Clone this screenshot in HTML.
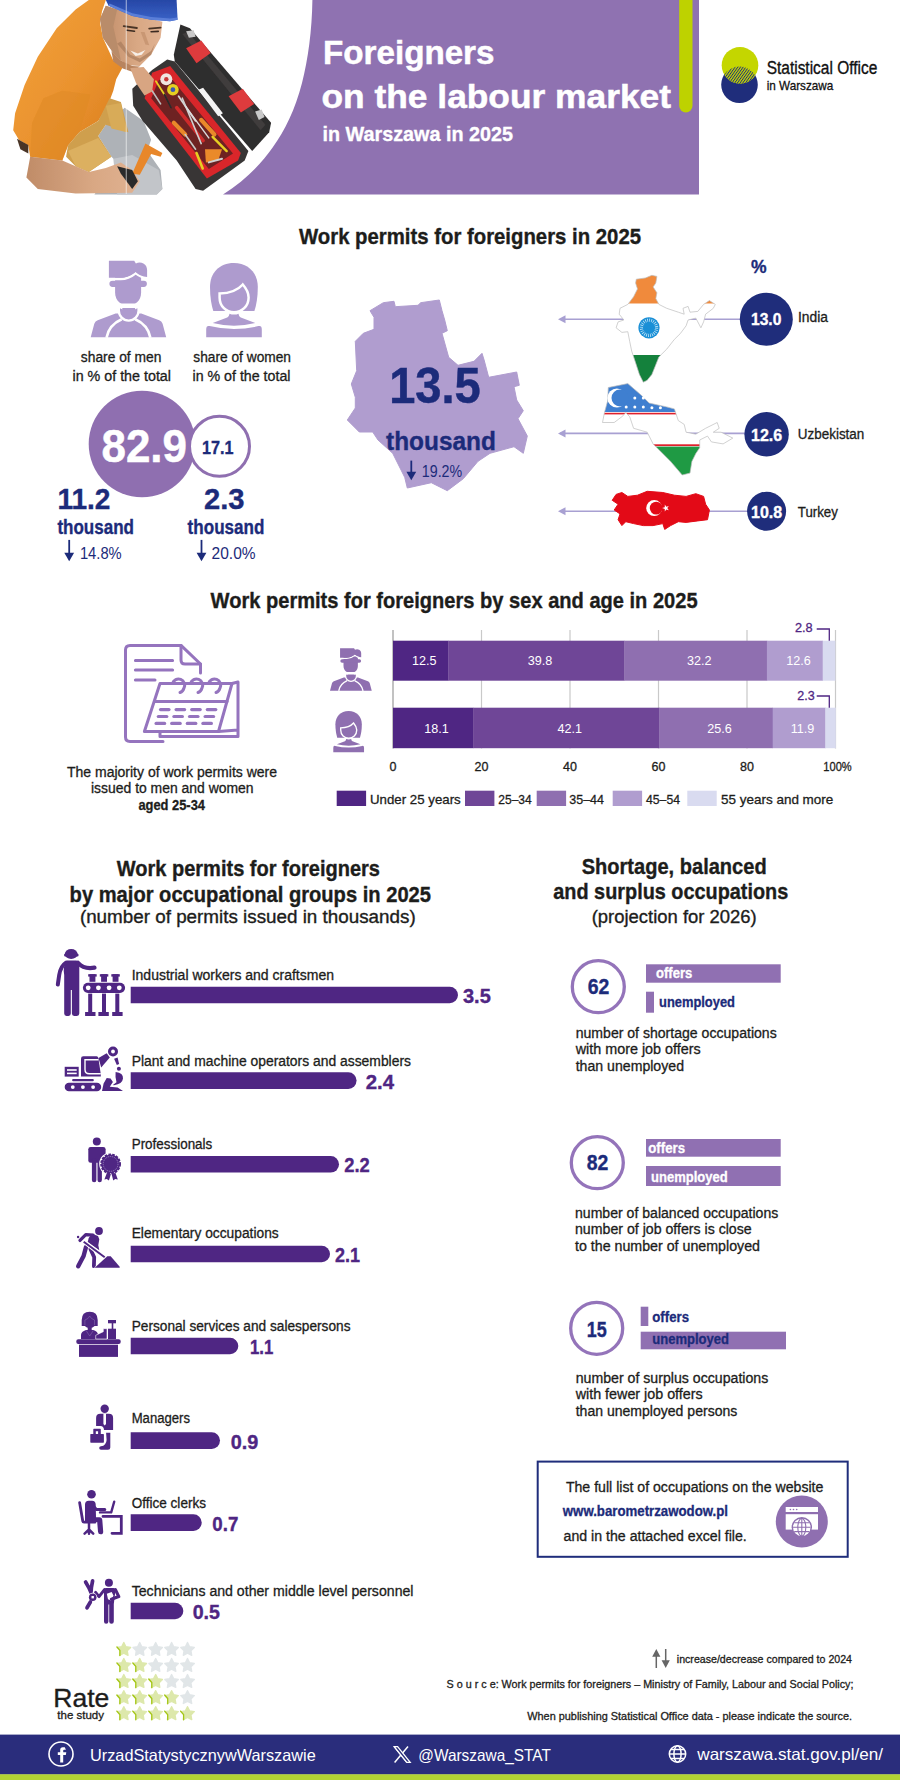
<!DOCTYPE html>
<html lang="en">
<head>
<meta charset="utf-8">
<title>Foreigners on the labour market in Warszawa in 2025</title>
<style>
html,body{margin:0;padding:0;background:#fff;}
body{width:900px;height:1780px;overflow:hidden;font-family:'Liberation Sans', 'DejaVu Sans', sans-serif;}
svg{display:block;}
svg text{font-family:'Liberation Sans', 'DejaVu Sans', sans-serif;white-space:pre;}
</style>
</head>
<body>
<svg width="900" height="1780" viewBox="0 0 900 1780">
<defs>
<filter id="blur1" x="-5%" y="-5%" width="110%" height="110%"><feGaussianBlur stdDeviation="0.7"/></filter>
<filter id="blur2" x="-5%" y="-5%" width="110%" height="110%"><feGaussianBlur stdDeviation="1.6"/></filter>
<pattern id="hatch" width="2.2" height="2.2" patternUnits="userSpaceOnUse" patternTransform="rotate(35)"><rect width="2.2" height="2.2" fill="#c4d600"/><rect width="0.9" height="2.2" fill="#1f2d7b"/></pattern>
<clipPath id="cG"><circle cx="740" cy="65.3" r="18.3"/></clipPath>
<g id="man">
<path d="M24.4,10 H50.4 V32 C50.4,40 44,45 37.4,45 C31,45 24.4,40 24.4,32 Z"/>
<rect x="18.7" y="20" width="37.5" height="6.2" rx="3.1"/>
<path d="M17,18.3 H30 C36,18.3 41,15.7 44.9,12.5 C48,15.2 52,17.2 57.5,17.4" fill="none" stroke="#fff" stroke-width="2.4"/>
<path d="M18.2,0 H43.5 L45.2,2.8 C47.5,1.6 50.5,1.6 52.7,2.8 C55.3,4.2 56.4,6.8 56.4,9.3 V16.2 C52,16 48,14 44.9,11.3 C41,14.5 36,17.1 30,17.1 H18.2 Z"/>
<path d="M0,76.6 L3.6,63 Q4.6,60.4 7,59.5 L24.9,52.7 H50.6 L68.5,59.5 Q70.9,60.4 71.9,63 L75.5,76.6 Z"/>
<path d="M15.8,77 C17.5,68 23,62 31,58.5 M59.7,77 C58,68 52.5,62 44.5,58.5" fill="none" stroke="#fff" stroke-width="2.6"/>
<path d="M29.3,45 V50 A8.7,8.7 0 0 0 46.7,50 V45 Z" stroke="#fff" stroke-width="4.6"/>
<path d="M29.3,47.6 V50 A8.7,8.7 0 0 0 46.7,50 V47.6 C44,49.3 41,50 38,50 C35,50 32,49.3 29.3,47.6 Z"/>
</g>
<g id="woman">
<path d="M27.7,0 C42,0 51.6,10 51.6,24 C51.6,34 50.2,42 48.2,48.2 H7.1 C5.2,42 3.8,34 3.8,24 C3.8,10 13,0 27.7,0 Z"/>
<path d="M13.4,30.6 C21,30.4 31,28 36.6,21.6 C40,25.5 42.4,30 42.4,34.5 C42.4,43.5 35.5,49.3 27.8,49.3 C20,49.3 13.4,43.5 13.4,34.5 Z" stroke="#fff" stroke-width="2.5"/>
<path d="M6.5,60.2 L21,54.5 C22.5,53.7 23.2,52.3 23.2,50.8 C26,52 30,52 32.4,50.8 C32.4,52.3 33,53.7 34.6,54.5 L49.1,60.2 Q27.8,65.5 6.5,60.2 Z"/>
<path d="M0,74.4 V66.5 Q0,62.3 3.4,63.2 Q27.8,69.2 52.2,63.2 Q55.6,62.3 55.6,66.5 V74.4 Z"/>
</g>
</defs>
<path d="M312.4,0 C312,30 308,60 302,83 C295,110 285,130 273,147 C262,163 245,181 223,194.4 H699 V0 Z" fill="#8f72b1"/>
<path d="M679.2,0 H692.5 V105.8 A6.65,6.65 0 0 1 679.2,105.8 Z" fill="#bed200"/>
<text x="323.0" y="63.5" font-size="34" font-weight="bold" fill="#fff" stroke="#fff" stroke-width="0.5" textLength="171.5" lengthAdjust="spacingAndGlyphs">Foreigners</text>
<text x="321.5" y="107.6" font-size="34" font-weight="bold" fill="#fff" stroke="#fff" stroke-width="0.5" textLength="349.5" lengthAdjust="spacingAndGlyphs">on the labour market</text>
<text x="322.5" y="140.6" font-size="21" font-weight="bold" fill="#fff" stroke="#fff" stroke-width="0.35" textLength="190.5" lengthAdjust="spacingAndGlyphs">in Warszawa in 2025</text>
<circle cx="739.5" cy="84.8" r="18.3" fill="#1f2d7b"/>
<circle cx="740" cy="65.3" r="18.3" fill="#c4d600"/>
<circle cx="739.5" cy="84.8" r="18.3" fill="url(#hatch)" clip-path="url(#cG)"/>
<text x="766.7" y="73.9" font-size="18" fill="#111" stroke="#111" stroke-width="0.35" textLength="110.6" lengthAdjust="spacingAndGlyphs">Statistical Office</text>
<text x="766.7" y="89.9" font-size="13" fill="#111" stroke="#111" stroke-width="0.3" textLength="66.6" lengthAdjust="spacingAndGlyphs">in Warszawa</text>
<defs><linearGradient id="gShirt" x1="0" y1="0" x2="1" y2="1"><stop offset="0" stop-color="#f2a23c"/><stop offset="0.55" stop-color="#ea922e"/><stop offset="1" stop-color="#d87c1e"/></linearGradient>
<linearGradient id="gHel" x1="0" y1="0" x2="0" y2="1"><stop offset="0" stop-color="#2747a6"/><stop offset="1" stop-color="#3a63c8"/></linearGradient>
<linearGradient id="gSkin" x1="0" y1="0" x2="1" y2="0"><stop offset="0" stop-color="#c08c68"/><stop offset="0.6" stop-color="#d9a884"/><stop offset="1" stop-color="#e0b292"/></linearGradient></defs>
<g filter="url(#blur1)">
<polygon points="98.2,136.0 105.8,124.7 124.7,107.7 143.6,120.9 151.1,139.8 147.3,151.1 160.6,170.0 162.4,188.9 156.8,194.6 94.4,194.6 117.1,162.4 111.4,156.8" fill="#aeb2b7"/>
<polygon points="113.3,158.7 132.2,154.9 158.7,170.0 162.4,188.9 156.8,194.6 117.1,194.6" fill="#c2c5c9"/>
<polygon points="88.8,0.0 105.8,0.0 102.0,11.3 100.1,22.7 102.9,37.8 113.3,60.4 122.8,67.1 116.2,79.3 113.3,90.7 107.7,105.8 98.2,120.9 79.3,132.2 68.0,145.4 62.3,160.6 30.2,156.8 28.3,145.4 18.9,139.8 13.2,130.3 15.1,113.3 24.6,85.0 37.8,56.7 56.7,28.3 75.6,9.4" fill="url(#gShirt)"/>
<polygon points="43.4,98.2 62.3,90.7 90.7,94.4 79.3,132.2 68.0,145.4 62.3,160.6 30.2,156.8 32.1,122.8" fill="#e08a26" opacity="0.6"/>
<polygon points="17.0,138.8 28.3,145.1 28.3,153.4 20.4,149.2" fill="#4a3528"/>
<polygon points="66.1,156.8 68.0,145.4 79.3,132.2 98.2,120.9 109.6,98.2 120.9,102.0 128.4,132.2 105.8,124.7 98.2,136.0 111.4,156.8 88.8,171.9 75.6,166.2" fill="#cf9f4e"/>
<polygon points="68.0,151.1 98.2,137.9 111.4,156.8 88.8,171.9 75.6,166.2" fill="#dcb060"/>
<polygon points="105.8,105.8 120.9,102.9 126.9,132.2 111.4,128.4" fill="#d8ab58"/>
<polygon points="30.2,156.8 62.3,160.6 75.6,166.2 88.8,171.9 105.8,168.1 120.9,162.4 132.2,170.0 139.8,181.3 132.2,192.7 75.6,193.6 37.8,188.9 26.4,177.6" fill="url(#gSkin)"/>
<polygon points="105.8,5.7 128.4,13.2 162.4,21.7 160.6,37.8 151.1,54.8 139.8,66.1 128.4,65.2 120.9,60.4 113.3,52.9 102.9,37.8 100.1,18.9" fill="url(#gSkin)"/>
<polygon points="105.8,5.7 117.1,9.4 113.3,26.4 120.9,60.4 113.3,52.9 102.9,37.8 100.1,18.9" fill="#b98c6a"/>
<polygon points="130.3,50.6 137.9,53.6 145.4,49.9 141.7,54.8 135.6,55.9" fill="#f6efe8"/>
<path d="M123.7,26.1 L136.9,28.0" stroke="#4a3426" stroke-width="1.8" stroke-linecap="round" fill="none"/>
<path d="M149.2,28.7 L160.6,27.6" stroke="#4a3426" stroke-width="1.8" stroke-linecap="round" fill="none"/>
<path d="M126.9,30.2 L134.5,31.2" stroke="#3a2a20" stroke-width="1.6" stroke-linecap="round" fill="none"/>
<path d="M151.1,31.7 L158.3,31.4" stroke="#3a2a20" stroke-width="1.6" stroke-linecap="round" fill="none"/>
<polygon points="117.1,43.4 128.4,56.7 139.8,62.3 151.1,54.8 154.9,43.4 151.1,51.0 139.8,58.6 130.3,54.8 120.9,41.6" fill="#a87c5c" opacity="0.7"/>
<polygon points="140.7,32.1 145.4,44.4 149.2,45.3 144.5,32.1" fill="#c4926e" opacity="0.8"/>
<polygon points="111.4,51.0 120.9,60.4 132.2,66.1 139.8,66.5 132.2,71.8 122.8,68.4 113.3,61.4" fill="#b8845f"/>
<polygon points="105.8,0.0 108.6,5.7 132.2,16.1 151.1,19.8 170.0,21.2 177.6,19.8 176.6,0.0" fill="url(#gHel)"/>
<polygon points="108.6,5.7 132.2,16.1 151.1,19.8 170.0,21.2 177.6,19.8 177.2,17.4 170.0,18.5 151.1,17.0 132.2,13.2 109.6,3.4" fill="#5a7ed8"/>
<polygon points="132.3,88.8 152.1,69.9 167.2,59.5 174.8,61.4 248.4,151.1 244.7,160.6 203.1,190.8 195.6,188.9 176.7,160.6 142.7,120.9 133.2,105.8" fill="#383636"/>
<polygon points="180.4,24.6 189.9,28.3 271.1,122.8 269.2,132.2 252.2,151.1 174.8,61.4 173.8,54.8" fill="#2f2d2d"/>
<polygon points="182.3,34.0 188.0,32.1 265.4,124.7 260.7,130.3" fill="#3f3d3d"/>
<polygon points="198.4,89.7 203.1,87.8 222.9,113.3 218.2,116.2" fill="#f4f4f4"/>
<polygon points="186.1,48.2 201.2,40.6 210.7,52.9 196.5,63.3" fill="#de3a3c"/>
<polygon points="228.6,96.3 242.8,88.8 254.1,103.9 240.9,112.4" fill="#de3a3c"/>
<polygon points="186.1,31.2 193.7,30.2 195.6,36.8 188.9,37.8" fill="#c9c9c9"/>
<polygon points="255.1,111.4 261.7,109.6 264.5,117.1 258.8,119.9" fill="#c9c9c9"/>
<polygon points="152.1,72.7 170.1,66.1 240.9,153.0 238.1,160.6 206.9,178.5 144.6,98.2" fill="#d9262b"/>
<polygon points="158.7,80.3 168.7,75.2 233.0,153.4 208.8,169.1 151.2,98.2" fill="#6e2424"/>
<path d="M176.7,107.7 L203.1,140.7" stroke="#cf2a2c" stroke-width="3.6" stroke-linecap="round" fill="none"/>
<circle cx="166.3" cy="79.3" r="6" fill="#efe6e0"/><circle cx="166.3" cy="79.3" r="2.2" fill="#c83838"/>
<circle cx="172.9" cy="89.7" r="5.8" fill="#e6cf22"/><circle cx="172.9" cy="89.7" r="2.4" fill="#3a58b0"/>
<path d="M155.9,81.2 L164.4,94.4" stroke="#e6cf22" stroke-width="1.8" stroke-linecap="round" fill="none"/>
<path d="M164.4,94.4 L171.0,107.7" stroke="#2a2a2a" stroke-width="1.6" stroke-linecap="round" fill="none"/>
<path d="M152.1,90.7 L160.6,103.9" stroke="#bdbdbd" stroke-width="1.6" stroke-linecap="round" fill="none"/>
<path d="M178.6,96.3 L195.6,120.9" stroke="#d4d4d4" stroke-width="1.8" stroke-linecap="round" fill="none"/>
<path d="M182.3,98.2 L201.2,143.6" stroke="#cfcfcf" stroke-width="1.6" stroke-linecap="round" fill="none"/>
<path d="M185.2,105.8 L208.8,137.9" stroke="#dcdcdc" stroke-width="1.4" stroke-linecap="round" fill="none"/>
<path d="M173.8,122.8 L185.2,134.5" stroke="#ea882a" stroke-width="4.2" stroke-linecap="round" fill="none"/>
<path d="M201.2,119.9 L214.4,134.5" stroke="#ea882a" stroke-width="4.2" stroke-linecap="round" fill="none"/>
<path d="M185.2,134.5 L195.6,149.2" stroke="#c8c8c8" stroke-width="1.6" stroke-linecap="round" fill="none"/>
<path d="M212.6,136.9 L226.7,151.1" stroke="#e6cf22" stroke-width="2.4" stroke-linecap="round" fill="none"/>
<path d="M196.5,153.0 L202.7,168.5" stroke="#e6cf22" stroke-width="2.6" stroke-linecap="round" fill="none"/>
<polygon points="205.0,149.2 222.0,149.2 218.2,160.6 205.9,162.4" fill="#ea8a2c"/>
<path d="M208.8,162.4 L222.0,158.7" stroke="#d0d0d0" stroke-width="2" stroke-linecap="round" fill="none"/>
<polygon points="130.3,68.0 143.6,67.1 153.9,79.3 152.1,91.6 144.5,95.4 136.0,83.1" fill="#d8a582"/>
<polygon points="132.2,173.8 145.4,143.6 162.4,153.0 160.6,156.8 151.1,153.9 139.8,174.7" fill="#e8872a"/>
<polygon points="117.1,166.2 132.2,170.0 137.9,181.3 132.2,188.9 120.9,173.8" fill="#2a2a2a"/>
</g>
<rect x="125.8" y="0" width="0.8" height="194" fill="#fff" opacity="0.75"/>
<text x="299.0" y="243.7" font-size="21.3" font-weight="bold" fill="#1d1d1b" stroke="#1d1d1b" stroke-width="0.35" textLength="342.0" lengthAdjust="spacingAndGlyphs">Work permits for foreigners in 2025</text>
<use href="#man" transform="translate(90.7,260.7)" fill="#ae9bce"/>
<use href="#woman" transform="translate(206.2,262.9)" fill="#ae9bce"/>
<text x="80.8" y="362.2" font-size="14" fill="#1d1d1b" stroke="#1d1d1b" stroke-width="0.3" textLength="80.6" lengthAdjust="spacingAndGlyphs">share of men</text>
<text x="72.5" y="380.5" font-size="14" fill="#1d1d1b" stroke="#1d1d1b" stroke-width="0.3" textLength="98.5" lengthAdjust="spacingAndGlyphs">in % of the total</text>
<text x="193.3" y="362.2" font-size="14" fill="#1d1d1b" stroke="#1d1d1b" stroke-width="0.3" textLength="97.7" lengthAdjust="spacingAndGlyphs">share of women</text>
<text x="192.5" y="380.5" font-size="14" fill="#1d1d1b" stroke="#1d1d1b" stroke-width="0.3" textLength="98.0" lengthAdjust="spacingAndGlyphs">in % of the total</text>
<circle cx="142" cy="444" r="53.3" fill="#8f6fb0"/>
<circle cx="219.5" cy="446.3" r="30" fill="#fff" stroke="#8f6fb0" stroke-width="3"/>
<text x="101.5" y="461.6" font-size="46.4" font-weight="bold" fill="#fff" stroke="#fff" stroke-width="0.5" textLength="85.5" lengthAdjust="spacingAndGlyphs">82.9</text>
<text x="202.0" y="454.4" font-size="18.8" font-weight="bold" fill="#1c2b7a" stroke="#1c2b7a" stroke-width="0.35" textLength="31.5" lengthAdjust="spacingAndGlyphs">17.1</text>
<text x="57.4" y="509.0" font-size="29.5" font-weight="bold" fill="#1c2b7a" stroke="#1c2b7a" stroke-width="0.35" textLength="53.1" lengthAdjust="spacingAndGlyphs">11.2</text>
<text x="57.4" y="534.0" font-size="19.8" font-weight="bold" fill="#1c2b7a" stroke="#1c2b7a" stroke-width="0.35" textLength="76.6" lengthAdjust="spacingAndGlyphs">thousand</text>
<path d="M69.2,539.9 V553.8" fill="none" stroke="#1c2b7a" stroke-width="1.8"/><path d="M64.3,552.8 H74.1 L69.2,561.2 Z" fill="#1c2b7a"/>
<text x="79.9" y="559.2" font-size="16" fill="#1c2b7a" textLength="41.8" lengthAdjust="spacingAndGlyphs">14.8%</text>
<text x="204.0" y="509.0" font-size="29.5" font-weight="bold" fill="#1c2b7a" stroke="#1c2b7a" stroke-width="0.35" textLength="40.6" lengthAdjust="spacingAndGlyphs">2.3</text>
<text x="187.6" y="534.0" font-size="19.8" font-weight="bold" fill="#1c2b7a" stroke="#1c2b7a" stroke-width="0.35" textLength="76.8" lengthAdjust="spacingAndGlyphs">thousand</text>
<path d="M201.5,539.9 V553.8" fill="none" stroke="#1c2b7a" stroke-width="1.8"/><path d="M196.6,552.8 H206.4 L201.5,561.2 Z" fill="#1c2b7a"/>
<text x="211.6" y="559.2" font-size="16" fill="#1c2b7a" textLength="44.0" lengthAdjust="spacingAndGlyphs">20.0%</text>
<polygon points="370.0,310.7 383.3,302.7 394.0,301.3 395.3,306.7 418.0,305.3 420.7,302.7 439.3,300.0 442.0,310.7 444.7,320.0 447.3,330.7 442.0,333.3 448.7,357.3 458.0,365.3 474.0,361.3 482.0,353.3 484.1,360.0 488.7,377.3 516.7,372.0 519.3,385.3 514.0,386.7 516.7,400.0 523.3,410.7 518.0,418.7 527.3,436.0 523.3,453.3 514.0,446.7 490.0,453.3 478.0,461.3 463.3,478.7 447.3,490.7 431.3,482.7 407.3,488.0 404.7,477.3 392.7,453.3 378.0,440.0 372.7,432.0 359.3,432.0 347.3,420.0 355.3,408.0 355.3,397.3 351.3,384.0 356.7,370.7 355.3,341.3 363.3,333.3 374.0,329.3 374.0,317.3" fill="#b09dcf" stroke="#b09dcf" stroke-width="1" stroke-linejoin="round"/>
<text x="389.2" y="403.2" font-size="50.7" font-weight="bold" fill="#1c2b7a" stroke="#1c2b7a" stroke-width="0.5" textLength="91.5" lengthAdjust="spacingAndGlyphs">13.5</text>
<text x="386.0" y="449.9" font-size="25.2" font-weight="bold" fill="#1c2b7a" stroke="#1c2b7a" stroke-width="0.35" textLength="109.9" lengthAdjust="spacingAndGlyphs">thousand</text>
<path d="M411.3,460.6 V472.8" fill="none" stroke="#1c2b7a" stroke-width="1.8"/><path d="M406.4,471.8 H416.2 L411.3,480.2 Z" fill="#1c2b7a"/>
<text x="421.8" y="477.0" font-size="16" fill="#1c2b7a" textLength="40.4" lengthAdjust="spacingAndGlyphs">19.2%</text>
<path d="M560,319.2 H745" stroke="#a8a0d2" stroke-width="1.6" fill="none"/>
<path d="M558,319.2 L565.5,315.2 V323.2 Z" fill="#a8a0d2"/>
<path d="M560,433.4 H745" stroke="#a8a0d2" stroke-width="1.6" fill="none"/>
<path d="M558,433.4 L565.5,429.4 V437.4 Z" fill="#a8a0d2"/>
<path d="M560,511.2 H748" stroke="#a8a0d2" stroke-width="1.6" fill="none"/>
<path d="M558,511.2 L565.5,507.2 V515.2 Z" fill="#a8a0d2"/>
<text x="751.0" y="272.6" font-size="17.5" font-weight="bold" fill="#1c2b7a" stroke="#1c2b7a" stroke-width="0.35" textLength="15.6" lengthAdjust="spacingAndGlyphs">%</text>
<circle cx="766.3" cy="319.2" r="26.5" fill="#1f2d7b"/>
<text x="751.0" y="325.0" font-size="17" font-weight="bold" fill="#fff" stroke="#fff" stroke-width="0.35" textLength="30.4" lengthAdjust="spacingAndGlyphs">13.0</text>
<text x="798.0" y="322.3" font-size="14" fill="#1d1d1b" stroke="#1d1d1b" stroke-width="0.3" textLength="30.0" lengthAdjust="spacingAndGlyphs">India</text>
<circle cx="766.6" cy="434.2" r="22.2" fill="#1f2d7b"/>
<text x="751.0" y="440.8" font-size="17" font-weight="bold" fill="#fff" stroke="#fff" stroke-width="0.35" textLength="31.2" lengthAdjust="spacingAndGlyphs">12.6</text>
<text x="797.8" y="439.2" font-size="14" fill="#1d1d1b" stroke="#1d1d1b" stroke-width="0.3" textLength="66.5" lengthAdjust="spacingAndGlyphs">Uzbekistan</text>
<circle cx="766.6" cy="511.2" r="19.5" fill="#1f2d7b"/>
<text x="751.0" y="517.8" font-size="17" font-weight="bold" fill="#fff" stroke="#fff" stroke-width="0.35" textLength="31.2" lengthAdjust="spacingAndGlyphs">10.8</text>
<text x="797.8" y="516.6" font-size="14" fill="#1d1d1b" stroke="#1d1d1b" stroke-width="0.3" textLength="40.0" lengthAdjust="spacingAndGlyphs">Turkey</text>
<clipPath id="cI"><polygon points="636.3,279.2 645.3,278.0 651.9,275.3 656.9,276.4 655.8,283.1 653.1,286.9 656.9,292.8 655.8,298.6 658.9,304.4 666.7,308.3 678.3,312.2 684.2,314.2 683.0,308.3 688.1,306.4 690.0,312.2 697.8,311.4 703.6,304.4 709.4,300.6 715.3,304.4 713.3,308.3 705.6,314.2 703.6,321.9 700.9,327.8 697.8,321.9 695.8,318.1 688.1,320.0 686.1,325.8 680.3,333.6 674.4,339.4 666.7,349.2 658.9,356.9 655.0,366.7 651.9,374.4 647.2,380.3 643.3,382.2 639.4,374.4 635.6,362.8 631.7,351.1 629.7,341.4 627.8,331.7 621.9,332.4 616.1,327.8 618.1,321.9 623.9,320.0 619.2,314.2 620.0,308.3 627.8,304.4 633.6,296.7 637.5,288.9 635.6,283.1"/></clipPath>
<g clip-path="url(#cI)">
<rect x="600" y="270" width="130" height="33.7" fill="#f08a3c"/>
<rect x="600" y="303.7" width="130" height="51.3" fill="#fff"/>
<rect x="600" y="355.0" width="130" height="40" fill="#14813c"/>
</g>
<polygon points="636.3,279.2 645.3,278.0 651.9,275.3 656.9,276.4 655.8,283.1 653.1,286.9 656.9,292.8 655.8,298.6 658.9,304.4 666.7,308.3 678.3,312.2 684.2,314.2 683.0,308.3 688.1,306.4 690.0,312.2 697.8,311.4 703.6,304.4 709.4,300.6 715.3,304.4 713.3,308.3 705.6,314.2 703.6,321.9 700.9,327.8 697.8,321.9 695.8,318.1 688.1,320.0 686.1,325.8 680.3,333.6 674.4,339.4 666.7,349.2 658.9,356.9 655.0,366.7 651.9,374.4 647.2,380.3 643.3,382.2 639.4,374.4 635.6,362.8 631.7,351.1 629.7,341.4 627.8,331.7 621.9,332.4 616.1,327.8 618.1,321.9 623.9,320.0 619.2,314.2 620.0,308.3 627.8,304.4 633.6,296.7 637.5,288.9 635.6,283.1" fill="none" stroke="#bdbdbd" stroke-width="0.7"/>
<circle cx="649" cy="327.8" r="10.6" fill="#1a8fd6"/><circle cx="649" cy="327.8" r="7.6" fill="none" stroke="#bfe2f6" stroke-width="3.2" stroke-dasharray="0.8 1.19"/><circle cx="649" cy="327.8" r="2.2" fill="#1a8fd6"/>
<clipPath id="cU"><polygon points="608.3,387.5 627.8,383.6 641.4,395.3 649.2,403.1 666.7,406.9 674.4,408.9 678.3,420.6 684.2,424.4 686.1,432.2 695.8,434.2 705.6,428.3 717.2,422.5 719.2,428.3 713.3,432.2 721.1,432.2 732.8,438.1 723.1,443.9 711.4,441.9 707.5,436.1 699.7,440.0 699.7,447.8 695.8,453.6 691.9,461.4 690.0,473.1 682.2,475.0 670.6,461.4 658.9,449.7 653.1,443.9 647.2,432.2 633.6,428.3 629.7,416.7 625.8,412.8 621.9,416.7 614.2,422.5 602.5,422.5 604.4,412.8 607.6,401.1"/></clipPath>
<g clip-path="url(#cU)">
<rect x="595" y="380" width="150" height="100" fill="#fff"/>
<rect x="595" y="380" width="150" height="32.0" fill="#3f7fd0"/>
<rect x="595" y="412.8" width="150" height="1.6" fill="#e0202c"/>
<rect x="595" y="444.3" width="150" height="1.8" fill="#e0202c"/>
<rect x="595" y="446.6" width="150" height="40" fill="#1f9a44"/>
</g>
<polygon points="608.3,387.5 627.8,383.6 641.4,395.3 649.2,403.1 666.7,406.9 674.4,408.9 678.3,420.6 684.2,424.4 686.1,432.2 695.8,434.2 705.6,428.3 717.2,422.5 719.2,428.3 713.3,432.2 721.1,432.2 732.8,438.1 723.1,443.9 711.4,441.9 707.5,436.1 699.7,440.0 699.7,447.8 695.8,453.6 691.9,461.4 690.0,473.1 682.2,475.0 670.6,461.4 658.9,449.7 653.1,443.9 647.2,432.2 633.6,428.3 629.7,416.7 625.8,412.8 621.9,416.7 614.2,422.5 602.5,422.5 604.4,412.8 607.6,401.1" fill="none" stroke="#bdbdbd" stroke-width="0.7"/>
<circle cx="616.9" cy="398.0" r="9.5" fill="#fff"/><circle cx="620.0" cy="398.0" r="8.5" fill="#3f7fd0"/>
<circle cx="634.8" cy="398.0" r="1.5" fill="#fff"/>
<circle cx="643.3" cy="398.0" r="1.5" fill="#fff"/>
<circle cx="626.2" cy="406.9" r="1.5" fill="#fff"/>
<circle cx="634.8" cy="406.9" r="1.5" fill="#fff"/>
<circle cx="643.3" cy="406.9" r="1.5" fill="#fff"/>
<circle cx="651.9" cy="407.7" r="1.5" fill="#fff"/>
<circle cx="660.4" cy="407.7" r="1.5" fill="#fff"/>
<polygon points="612.2,500.3 616.1,494.4 621.9,492.5 627.8,496.4 637.5,495.2 647.2,491.3 662.8,492.5 674.4,495.2 686.1,496.4 695.8,493.7 703.6,496.4 705.6,504.2 709.4,510.0 707.5,519.7 697.8,520.9 686.1,522.4 678.3,521.7 670.6,525.6 664.7,529.4 662.8,523.6 653.1,525.6 643.3,525.6 633.6,523.6 625.8,521.7 621.9,525.6 618.1,519.7 620.0,513.9 614.2,510.0 618.1,504.2" fill="#e30a17" stroke="#e30a17" stroke-width="1" stroke-linejoin="round"/>
<circle cx="654.2" cy="508.1" r="8" fill="#fff"/><circle cx="656.2" cy="508.1" r="6.4" fill="#e30a17"/>
<polygon points="662.3,508.1 664.8,507.2 664.8,504.6 666.3,506.7 668.8,505.9 667.3,508.1 668.8,510.2 666.3,509.4 664.8,511.5 664.8,508.9" fill="#fff"/>
<text x="210.6" y="607.7" font-size="21.3" font-weight="bold" fill="#1d1d1b" stroke="#1d1d1b" stroke-width="0.35" textLength="487.0" lengthAdjust="spacingAndGlyphs">Work permits for foreigners by sex and age in 2025</text>
<g fill="none" stroke="#9574be" stroke-width="3" stroke-linecap="round" stroke-linejoin="round">
<path d="M163,741.4 H130 Q125.5,741.4 125.5,737 V650 Q125.5,645.4 130,645.4 H181 L200.5,664 V673"/>
<path d="M181,645.4 V660 Q181,664 185,664 H200.5"/>
<path d="M135.4,660.4 H172.6 M135.4,670 H172.6 M135.4,680 H155"/>
<path d="M160,683.5 H232 L218.5,731.5 H144.4 Z"/>
<path d="M232,683.5 L238,682 V730 L218.5,731.5 M238,730 V736.5 H160 V731.5"/>
<path d="M155.2,701.5 H227"/>
<path d="M172.5,683.5 A6.2,6.2 0 1 1 184,688 Q183,691.5 180,692.5"/>
<path d="M190.5,683.5 A6.2,6.2 0 1 1 202,688 Q201,691.5 198,692.5"/>
<path d="M208.5,683.5 A6.2,6.2 0 1 1 220,688 Q219,691.5 216,692.5"/>
</g>
<g stroke="#9574be" stroke-width="3.2" stroke-linecap="round">
<path d="M160.5,709.6 h8.5"/>
<path d="M176.1,709.6 h8.5"/>
<path d="M191.7,709.6 h8.5"/>
<path d="M207.3,709.6 h8.5"/>
<path d="M158.3,716.5 h8.5"/>
<path d="M173.9,716.5 h8.5"/>
<path d="M189.5,716.5 h8.5"/>
<path d="M205.1,716.5 h8.5"/>
<path d="M156.1,723.4 h8.5"/>
<path d="M171.7,723.4 h8.5"/>
<path d="M187.3,723.4 h8.5"/>
<path d="M202.9,723.4 h8.5"/>
</g>
<text x="67.0" y="776.5" font-size="14" fill="#1d1d1b" stroke="#1d1d1b" stroke-width="0.3" textLength="210.0" lengthAdjust="spacingAndGlyphs">The majority of work permits were</text>
<text x="91.0" y="793.0" font-size="14" fill="#1d1d1b" stroke="#1d1d1b" stroke-width="0.3" textLength="162.6" lengthAdjust="spacingAndGlyphs">issued to men and women</text>
<text x="138.4" y="809.5" font-size="14" font-weight="bold" fill="#1d1d1b" stroke="#1d1d1b" stroke-width="0.3" textLength="66.6" lengthAdjust="spacingAndGlyphs">aged 25-34</text>
<rect x="392.4" y="630" width="1.2" height="118.5" fill="#9a9a9a"/>
<text x="393.0" y="771.0" font-size="12.5" fill="#1d1d1b" stroke="#1d1d1b" stroke-width="0.3" text-anchor="middle">0</text>
<rect x="480.9" y="630" width="1.2" height="118.5" fill="#c9c9c9"/>
<text x="481.5" y="771.0" font-size="12.5" fill="#1d1d1b" stroke="#1d1d1b" stroke-width="0.3" text-anchor="middle">20</text>
<rect x="569.4" y="630" width="1.2" height="118.5" fill="#c9c9c9"/>
<text x="570.0" y="771.0" font-size="12.5" fill="#1d1d1b" stroke="#1d1d1b" stroke-width="0.3" text-anchor="middle">40</text>
<rect x="657.9" y="630" width="1.2" height="118.5" fill="#c9c9c9"/>
<text x="658.5" y="771.0" font-size="12.5" fill="#1d1d1b" stroke="#1d1d1b" stroke-width="0.3" text-anchor="middle">60</text>
<rect x="746.4" y="630" width="1.2" height="118.5" fill="#c9c9c9"/>
<text x="747.0" y="771.0" font-size="12.5" fill="#1d1d1b" stroke="#1d1d1b" stroke-width="0.3" text-anchor="middle">80</text>
<rect x="834.9" y="630" width="1.2" height="118.5" fill="#c9c9c9"/>
<text x="823.3" y="771.0" font-size="12.5" fill="#1d1d1b" stroke="#1d1d1b" stroke-width="0.3" textLength="28.4" lengthAdjust="spacingAndGlyphs">100%</text>
<rect x="393.0" y="640.7" width="55.6" height="40" fill="#4f2683"/>
<rect x="448.3" y="640.7" width="176.4" height="40" fill="#6f4697"/>
<rect x="624.4" y="640.7" width="142.8" height="40" fill="#8f6fb0"/>
<rect x="766.9" y="640.7" width="56.1" height="40" fill="#b09dcf"/>
<rect x="822.7" y="640.7" width="12.7" height="40" fill="#d9dbf0"/>
<text x="424.3" y="665.3" font-size="12.6" fill="#fff" text-anchor="middle">12.5</text>
<text x="540.0" y="665.3" font-size="12.6" fill="#fff" text-anchor="middle">39.8</text>
<text x="699.3" y="665.3" font-size="12.6" fill="#fff" text-anchor="middle">32.2</text>
<text x="798.4" y="665.3" font-size="12.6" fill="#fff" text-anchor="middle">12.6</text>
<rect x="393.0" y="707.7" width="80.4" height="40.5" fill="#4f2683"/>
<rect x="473.1" y="707.7" width="186.6" height="40.5" fill="#6f4697"/>
<rect x="659.4" y="707.7" width="113.6" height="40.5" fill="#8f6fb0"/>
<rect x="772.7" y="707.7" width="53.0" height="40.5" fill="#b09dcf"/>
<rect x="825.3" y="707.7" width="10.5" height="40.5" fill="#d9dbf0"/>
<text x="436.6" y="732.6" font-size="12.6" fill="#fff" text-anchor="middle">18.1</text>
<text x="569.8" y="732.6" font-size="12.6" fill="#fff" text-anchor="middle">42.1</text>
<text x="719.6" y="732.6" font-size="12.6" fill="#fff" text-anchor="middle">25.6</text>
<text x="802.6" y="732.6" font-size="12.6" fill="#fff" text-anchor="middle">11.9</text>
<text x="795.0" y="632.3" font-size="13" fill="#4f2683" stroke="#4f2683" stroke-width="0.3" textLength="17.7" lengthAdjust="spacingAndGlyphs">2.8</text>
<path d="M816.7,629 H829.3 V640.7" fill="none" stroke="#4f2683" stroke-width="1.3"/>
<text x="797.3" y="700.0" font-size="13" fill="#4f2683" stroke="#4f2683" stroke-width="0.3" textLength="17.4" lengthAdjust="spacingAndGlyphs">2.3</text>
<path d="M816.7,696 H829.3 V707.7" fill="none" stroke="#4f2683" stroke-width="1.3"/>
<use href="#man" transform="translate(330,648.3) scale(0.553)" fill="#8f6fb0"/>
<use href="#woman" transform="translate(333.3,711) scale(0.553)" fill="#8f6fb0"/>
<rect x="336.7" y="790.7" width="29.4" height="15.3" fill="#4f2683"/>
<text x="370.0" y="804.0" font-size="13.5" fill="#1d1d1b" stroke="#1d1d1b" stroke-width="0.3" textLength="90.7" lengthAdjust="spacingAndGlyphs">Under 25 years</text>
<rect x="465" y="790.7" width="29.4" height="15.3" fill="#6f4697"/>
<text x="498.3" y="804.0" font-size="13.5" fill="#1d1d1b" stroke="#1d1d1b" stroke-width="0.3" textLength="33.4" lengthAdjust="spacingAndGlyphs">25–34</text>
<rect x="536.7" y="790.7" width="29.4" height="15.3" fill="#8f6fb0"/>
<text x="569.3" y="804.0" font-size="13.5" fill="#1d1d1b" stroke="#1d1d1b" stroke-width="0.3" textLength="34.7" lengthAdjust="spacingAndGlyphs">35–44</text>
<rect x="612.7" y="790.7" width="29.4" height="15.3" fill="#b09dcf"/>
<text x="646.0" y="804.0" font-size="13.5" fill="#1d1d1b" stroke="#1d1d1b" stroke-width="0.3" textLength="34.0" lengthAdjust="spacingAndGlyphs">45–54</text>
<rect x="687.3" y="790.7" width="29.4" height="15.3" fill="#d9dbf0"/>
<text x="721.0" y="804.0" font-size="13.5" fill="#1d1d1b" stroke="#1d1d1b" stroke-width="0.3" textLength="112.3" lengthAdjust="spacingAndGlyphs">55 years and more</text>
<text x="116.7" y="875.6" font-size="21.3" font-weight="bold" fill="#1d1d1b" stroke="#1d1d1b" stroke-width="0.35" textLength="263.3" lengthAdjust="spacingAndGlyphs">Work permits for foreigners</text>
<text x="69.6" y="902.0" font-size="21.3" font-weight="bold" fill="#1d1d1b" stroke="#1d1d1b" stroke-width="0.35" textLength="361.4" lengthAdjust="spacingAndGlyphs">by major occupational groups in 2025</text>
<text x="79.9" y="923.0" font-size="18" fill="#1d1d1b" stroke="#1d1d1b" stroke-width="0.35" textLength="335.8" lengthAdjust="spacingAndGlyphs">(number of permits issued in thousands)</text>
<text x="131.7" y="980.0" font-size="14" fill="#1d1d1b" stroke="#1d1d1b" stroke-width="0.3" textLength="202.3" lengthAdjust="spacingAndGlyphs">Industrial workers and craftsmen</text>
<path d="M130.7,986.7 H449.7 A8.3,8.3 0 0 1 449.7,1003.3000000000001 H130.7 Z" fill="#4f2683"/>
<text x="463.0" y="1003.0" font-size="19.3" font-weight="bold" fill="#4f2683" stroke="#4f2683" stroke-width="0.35" textLength="27.8" lengthAdjust="spacingAndGlyphs">3.5</text>
<text x="131.7" y="1065.7" font-size="14" fill="#1d1d1b" stroke="#1d1d1b" stroke-width="0.3" textLength="279.3" lengthAdjust="spacingAndGlyphs">Plant and machine operators and assemblers</text>
<path d="M130.7,1072.3 H348.3 A8.3,8.3 0 0 1 348.3,1088.8999999999999 H130.7 Z" fill="#4f2683"/>
<text x="365.7" y="1088.6" font-size="19.3" font-weight="bold" fill="#4f2683" stroke="#4f2683" stroke-width="0.35" textLength="28.3" lengthAdjust="spacingAndGlyphs">2.4</text>
<text x="131.7" y="1149.3" font-size="14" fill="#1d1d1b" stroke="#1d1d1b" stroke-width="0.3" textLength="80.6" lengthAdjust="spacingAndGlyphs">Professionals</text>
<path d="M130.7,1156 H330.7 A8.3,8.3 0 0 1 330.7,1172.6 H130.7 Z" fill="#4f2683"/>
<text x="344.3" y="1172.3" font-size="19.3" font-weight="bold" fill="#4f2683" stroke="#4f2683" stroke-width="0.35" textLength="25.5" lengthAdjust="spacingAndGlyphs">2.2</text>
<text x="131.7" y="1238.3" font-size="14" fill="#1d1d1b" stroke="#1d1d1b" stroke-width="0.3" textLength="147.0" lengthAdjust="spacingAndGlyphs">Elementary occupations</text>
<path d="M130.7,1245.7 H321.7 A8.3,8.3 0 0 1 321.7,1262.3 H130.7 Z" fill="#4f2683"/>
<text x="335.0" y="1262.0" font-size="19.3" font-weight="bold" fill="#4f2683" stroke="#4f2683" stroke-width="0.35" textLength="25.0" lengthAdjust="spacingAndGlyphs">2.1</text>
<text x="131.7" y="1331.0" font-size="14" fill="#1d1d1b" stroke="#1d1d1b" stroke-width="0.3" textLength="218.8" lengthAdjust="spacingAndGlyphs">Personal services and salespersons</text>
<path d="M130.7,1337.7 H230.0 A8.3,8.3 0 0 1 230.0,1354.3 H130.7 Z" fill="#4f2683"/>
<text x="250.0" y="1354.0" font-size="19.3" font-weight="bold" fill="#4f2683" stroke="#4f2683" stroke-width="0.35" textLength="23.3" lengthAdjust="spacingAndGlyphs">1.1</text>
<text x="131.7" y="1422.7" font-size="14" fill="#1d1d1b" stroke="#1d1d1b" stroke-width="0.3" textLength="58.3" lengthAdjust="spacingAndGlyphs">Managers</text>
<path d="M130.7,1432.3 H211.7 A8.3,8.3 0 0 1 211.7,1448.8999999999999 H130.7 Z" fill="#4f2683"/>
<text x="230.7" y="1448.6" font-size="19.3" font-weight="bold" fill="#4f2683" stroke="#4f2683" stroke-width="0.35" textLength="27.6" lengthAdjust="spacingAndGlyphs">0.9</text>
<text x="131.7" y="1507.7" font-size="14" fill="#1d1d1b" stroke="#1d1d1b" stroke-width="0.3" textLength="74.3" lengthAdjust="spacingAndGlyphs">Office clerks</text>
<path d="M130.7,1514.3 H193.4 A8.3,8.3 0 0 1 193.4,1530.8999999999999 H130.7 Z" fill="#4f2683"/>
<text x="212.3" y="1530.6" font-size="19.3" font-weight="bold" fill="#4f2683" stroke="#4f2683" stroke-width="0.35" textLength="26.0" lengthAdjust="spacingAndGlyphs">0.7</text>
<text x="131.7" y="1596.0" font-size="14" fill="#1d1d1b" stroke="#1d1d1b" stroke-width="0.3" textLength="281.8" lengthAdjust="spacingAndGlyphs">Technicians and other middle level personnel</text>
<path d="M130.7,1602.7 H175.0 A8.3,8.3 0 0 1 175.0,1619.3 H130.7 Z" fill="#4f2683"/>
<text x="192.7" y="1619.0" font-size="19.3" font-weight="bold" fill="#4f2683" stroke="#4f2683" stroke-width="0.35" textLength="27.3" lengthAdjust="spacingAndGlyphs">0.5</text>
<g fill="#4f2683" stroke="none">
<ellipse cx="71.2" cy="954" rx="6.4" ry="5.1"/><rect x="64" y="953.6" width="14.6" height="3" rx="1.5"/>
<path d="M67,960.4 H76 Q79.3,960.4 79.3,964 V1013.6 Q79.3,1016 76.9,1016 H74.2 Q71.9,1016 71.9,1013.6 V990 H70.8 V1013.6 Q70.8,1016 68.5,1016 H66.5 Q64.2,1016 64.2,1013.6 V975 Q62.5,966 67,960.4 Z"/>
<path d="M66,962.6 Q60.6,966 59.2,975 L57.8,984.6" fill="none" stroke="#4f2683" stroke-width="4" stroke-linecap="round"/>
<path d="M78,962.8 Q84,969.5 94.5,967.6" fill="none" stroke="#4f2683" stroke-width="4.2" stroke-linecap="round"/>
<rect x="82.9" y="982.7" width="42.2" height="10.2" rx="5.1"/>
<circle cx="88.2" cy="987.8" r="2.4" fill="#fff"/>
<circle cx="98.4" cy="987.8" r="2.4" fill="#fff"/>
<circle cx="109.1" cy="987.8" r="2.4" fill="#fff"/>
<circle cx="119.3" cy="987.8" r="2.4" fill="#fff"/>
<rect x="88.2" y="974.2" width="8.5" height="2.4"/><rect x="89.5" y="974.2" width="5.9" height="7.6"/>
<rect x="99.8" y="974.2" width="8.5" height="2.4"/><rect x="101.1" y="974.2" width="5.9" height="7.6"/>
<rect x="111.3" y="974.2" width="8.5" height="2.4"/><rect x="112.6" y="974.2" width="5.9" height="7.6"/>
<rect x="88.2" y="993.6" width="4" height="22"/><rect x="85.1" y="1012" width="10.4" height="4"/>
<rect x="102" y="993.6" width="4" height="22"/><rect x="98.4" y="1012" width="10.4" height="4"/>
<rect x="115.3" y="993.6" width="4" height="22"/><rect x="112.2" y="1012" width="10.4" height="4"/>
<rect x="64.7" y="1082.8" width="36.5" height="8.5" rx="4.25"/>
<circle cx="72.8" cy="1087.1" r="1.9" fill="#fff"/>
<circle cx="82.9" cy="1087.1" r="1.9" fill="#fff"/>
<circle cx="93.1" cy="1087.1" r="1.9" fill="#fff"/>
<rect x="72.1" y="1078.9" width="21.7" height="2.3" rx="1"/>
<rect x="64.7" y="1066.8" width="14" height="9.8"/>
<rect x="67" y="1069.2" width="9.7" height="1.6" fill="#fff"/><rect x="67" y="1072.6" width="9.7" height="1.6" fill="#fff"/>
<path d="M81,1076.6 V1058.6 Q81,1056.3 83.3,1056.3 H96.6 Q98,1056.3 98.4,1058.2 L100.8,1074.2 V1076.6 Z"/>
<path d="M98.4,1059.8 H85 V1069.5 Q85,1073.8 89.3,1073.8 H100.8" fill="none" stroke="#fff" stroke-width="1.4"/>
<polygon points="98.5,1057.9 106.7,1053.2 109.8,1057.5 101.2,1067.6"/>
<circle cx="113" cy="1051.5" r="5"/><circle cx="113" cy="1051.5" r="1.9" fill="#fff"/>
<polygon points="114.1,1058.7 117.6,1057.5 119.1,1064.1 116.8,1064.9"/>
<circle cx="118.9" cy="1068.8" r="2"/>
<path d="M115.6,1071.9 Q123.4,1072.5 123,1078.5 Q122.4,1084 114,1085.2 L112.9,1085.1 L116.5,1082.2 Q115,1077 115.6,1071.9 Z"/>
<polygon points="102,1090.9 103.6,1083.6 106.7,1078.1 110.6,1078.5 112.9,1082 109.8,1086.7 117.6,1087.4 123,1090.9"/>
<circle cx="96.8" cy="1141.4" r="4"/>
<rect x="88.3" y="1146.9" width="17.3" height="15.9" rx="2.4"/>
<rect x="91.9" y="1158" width="4.5" height="24.3" rx="2.2"/><rect x="97.5" y="1158" width="4.4" height="24.3" rx="2.2"/>
<circle cx="110.6" cy="1163.9" r="11.4" fill="#fff"/>
<circle cx="110.6" cy="1163.9" r="9.4" stroke="#4f2683" stroke-width="2" stroke-dasharray="2.6 1.2"/>
<circle cx="110.6" cy="1163.9" r="7.4" fill="none" stroke="#b9a5d6" stroke-width="0.6" stroke-dasharray="1.2 0.8"/>
<polygon points="107,1172.6 104.4,1179.4 106.8,1179 108.9,1180.6 110.9,1174.2"/>
<polygon points="111.6,1174.2 113.3,1180.6 115.2,1179 117.8,1179.4 115.4,1172.8"/>
<circle cx="99" cy="1231" r="3.9"/>
<polygon points="92,1233.7 98,1236 99.3,1239.3 98.3,1245.3 99.3,1250.3 87.7,1242 88.7,1238"/>
<path d="M93,1235.2 L85.8,1234.6 L80,1240.4" fill="none" stroke="#4f2683" stroke-width="3.3" stroke-linecap="round" stroke-linejoin="round"/>
<circle cx="78.1" cy="1237" r="1.2"/>
<path d="M86,1247 L83.6,1256 L78.2,1266.2" fill="none" stroke="#4f2683" stroke-width="4.4" stroke-linecap="round" stroke-linejoin="round"/>
<path d="M90.4,1249 L94.2,1257.3 L93.9,1266.2" fill="none" stroke="#4f2683" stroke-width="3.8" stroke-linecap="round" stroke-linejoin="round"/>
<path d="M83.7,1241.7 L104.7,1257.3" fill="none" stroke="#fff" stroke-width="4"/>
<path d="M83.7,1241.7 L104.7,1257.3" fill="none" stroke="#4f2683" stroke-width="2"/>
<polygon points="94.7,1267.7 107.3,1256.3 110.7,1256.3 119.7,1266.7 119.7,1267.7" stroke="#fff" stroke-width="1" paint-order="stroke"/>
<rect x="76.3" y="1339.3" width="44.4" height="4.7" rx="2"/>
<rect x="79" y="1344.7" width="39" height="12.2"/>
<path d="M81.7,1326 V1320 Q81.7,1311.7 89.7,1311.7 Q97.7,1311.7 97.7,1320 V1326 H94.6 Q93,1328 89.7,1328 Q86.4,1328 84.8,1326 Z"/>
<path d="M84.9,1325 V1320 Q88.5,1319 89.7,1316 Q91,1319 94.5,1320 V1325" fill="none" stroke="#8f74b5" stroke-width="0.5"/>
<rect x="87.7" y="1327" width="4" height="4"/>
<path d="M81,1339 V1335 Q81,1331.5 86,1330 H93.5 Q98,1331.5 98,1335 V1339 Z"/>
<path d="M86,1330.4 L89.7,1336 L93.4,1330.4" fill="none" stroke="#8f74b5" stroke-width="0.5"/>
<polygon points="95.7,1339 95.7,1335.3 103.3,1331.7 103.3,1328.7 107,1328.7 107,1339" stroke="#fff" stroke-width="0.6"/>
<rect x="108" y="1328.7" width="8" height="10.3"/><rect x="108" y="1320" width="8" height="3.3"/><rect x="111.7" y="1323" width="1.6" height="6"/>
<circle cx="104.7" cy="1408.8" r="4.2"/>
<path d="M96.1,1426 V1418 Q96.1,1413.8 100.3,1413.8 H108.9 Q113.1,1413.8 113.1,1418 V1430 H104 Q103.8,1426 100.4,1426 Z"/>
<path d="M103.4,1413.8 H106 V1424 L104.7,1425.4 L103.4,1424 Z" fill="#fff"/>
<rect x="90.3" y="1434.1" width="13.6" height="8.6" rx="0.6"/>
<path d="M93.3,1434.1 V1429.4 Q93.3,1428.8 93.9,1428.8 H100.2 Q100.8,1428.8 100.8,1429.4 V1434.1 H98.1 V1431.3 H95.8 V1434.1 Z"/>
<path d="M106.1,1432.7 H110.3 V1447.5 Q110.3,1449.7 108,1449.7 H101 Q99.2,1449.7 99.2,1448 Q99.2,1446.3 101,1446.3 Q106.3,1445.6 106.6,1440 Z"/>
<circle cx="91.5" cy="1494.3" r="4.3"/>
<path d="M85,1522 V1504.5 Q85,1500.7 88.8,1500.7 H92 Q95.7,1500.7 95.7,1504.5 L96,1517.3 H99.5 Q102,1517.3 102.3,1520 L103.2,1531.5 Q103.3,1534.3 100.6,1534.3 Q98.2,1534.3 98,1531.8 L97.2,1522 Z"/>
<path d="M94,1506.6 L96.5,1509.6 L104.8,1509.6" fill="none" stroke="#4f2683" stroke-width="3" stroke-linecap="round" stroke-linejoin="round"/>
<path d="M100,1512.4 H111.2 L114.2,1501.7" fill="none" stroke="#4f2683" stroke-width="2.4" stroke-linecap="round" stroke-linejoin="round"/>
<path d="M103,1516.4 H121.3 V1533.3 H112" fill="none" stroke="#4f2683" stroke-width="2.8" stroke-linecap="round" stroke-linejoin="miter"/>
<path d="M79.6,1502.6 L82.8,1521.2 Q83,1522.2 84,1522.2 H95" fill="none" stroke="#4f2683" stroke-width="2.8" stroke-linecap="round" stroke-linejoin="round"/>
<path d="M89,1523 V1529.5 L84.6,1533.6 M89,1529.5 L93.2,1533.6 M89,1529.5 V1533.8" fill="none" stroke="#4f2683" stroke-width="2.5" stroke-linecap="round"/>
<circle cx="108.9" cy="1582.8" r="4"/>
<path d="M104,1590 Q104,1588 106,1588 H113.5 Q115.5,1588 115.5,1590 L113.8,1604 V1621.6 Q113.8,1623.8 111.5,1623.8 Q109.2,1623.8 109.2,1621.6 V1604.5 H108.4 V1621.6 Q108.4,1623.8 106.1,1623.8 Q104,1623.8 104,1621.6 Z"/>
<path d="M104.5,1589.6 L99,1596.6 L95.6,1592.4" fill="none" stroke="#4f2683" stroke-width="3" stroke-linecap="round" stroke-linejoin="round"/>
<polygon points="106.8,1593.8 111.7,1592 113.5,1595.7 111,1600.5 108,1599.3" fill="#fff"/>
<path d="M115.4,1589.6 L118.8,1596.6 L111.4,1599.2" fill="none" stroke="#4f2683" stroke-width="3.2" stroke-linecap="round" stroke-linejoin="round"/>
<path d="M85.6,1582 L88.8,1587.6 L91,1592.4 M92.6,1580.8 L91.4,1587.4 L91,1592.4" fill="none" stroke="#4f2683" stroke-width="3.7" stroke-linecap="round" stroke-linejoin="round"/>
<circle cx="92.7" cy="1597.2" r="4.4" fill="#fff"/><circle cx="92.7" cy="1597.2" r="3.8"/><rect x="91.5" y="1596" width="2.4" height="2.4" fill="#fff"/>
<path d="M90.4,1602 L87,1607.8" fill="none" stroke="#4f2683" stroke-width="3.7" stroke-linecap="round"/>
</g>
<text x="581.7" y="874.3" font-size="21.3" font-weight="bold" fill="#1d1d1b" stroke="#1d1d1b" stroke-width="0.35" textLength="185.0" lengthAdjust="spacingAndGlyphs">Shortage, balanced</text>
<text x="553.3" y="899.0" font-size="21.3" font-weight="bold" fill="#1d1d1b" stroke="#1d1d1b" stroke-width="0.35" textLength="235.0" lengthAdjust="spacingAndGlyphs">and surplus occupations</text>
<text x="591.7" y="923.3" font-size="18" fill="#1d1d1b" stroke="#1d1d1b" stroke-width="0.35" textLength="165.0" lengthAdjust="spacingAndGlyphs">(projection for 2026)</text>
<circle cx="598.3" cy="986.7" r="26" fill="#fff" stroke="#9474ba" stroke-width="3.3"/>
<text x="587.7" y="994.0" font-size="21.7" font-weight="bold" fill="#1c2b7a" stroke="#1c2b7a" stroke-width="0.35" textLength="21.6" lengthAdjust="spacingAndGlyphs">62</text>
<rect x="646" y="964.3" width="134.7" height="18.4" fill="#9070b2"/>
<text x="656.0" y="977.7" font-size="14" font-weight="bold" fill="#fff" stroke="#fff" stroke-width="0.3" textLength="36.3" lengthAdjust="spacingAndGlyphs">offers</text>
<rect x="646" y="991.7" width="8" height="21" fill="#9070b2"/>
<text x="659.0" y="1006.7" font-size="14" font-weight="bold" fill="#1c2b7a" stroke="#1c2b7a" stroke-width="0.3" textLength="76.0" lengthAdjust="spacingAndGlyphs">unemployed</text>
<text x="575.7" y="1037.7" font-size="14" fill="#1d1d1b" stroke="#1d1d1b" stroke-width="0.3" textLength="201.0" lengthAdjust="spacingAndGlyphs">number of shortage occupations</text>
<text x="575.7" y="1054.0" font-size="14" fill="#1d1d1b" stroke="#1d1d1b" stroke-width="0.3" textLength="125.0" lengthAdjust="spacingAndGlyphs">with more job offers</text>
<text x="575.7" y="1071.0" font-size="14" fill="#1d1d1b" stroke="#1d1d1b" stroke-width="0.3" textLength="108.3" lengthAdjust="spacingAndGlyphs">than unemployed</text>
<circle cx="597.3" cy="1162.7" r="26" fill="#fff" stroke="#9474ba" stroke-width="3.3"/>
<text x="586.7" y="1170.0" font-size="21.7" font-weight="bold" fill="#1c2b7a" stroke="#1c2b7a" stroke-width="0.35" textLength="21.6" lengthAdjust="spacingAndGlyphs">82</text>
<rect x="646" y="1139" width="134.7" height="17.7" fill="#9070b2"/>
<text x="648.3" y="1152.7" font-size="14" font-weight="bold" fill="#fff" stroke="#fff" stroke-width="0.3" textLength="36.7" lengthAdjust="spacingAndGlyphs">offers</text>
<rect x="646" y="1166" width="134.7" height="20" fill="#9070b2"/>
<text x="651.0" y="1182.0" font-size="14" font-weight="bold" fill="#fff" stroke="#fff" stroke-width="0.3" textLength="76.7" lengthAdjust="spacingAndGlyphs">unemployed</text>
<text x="575.0" y="1218.3" font-size="14" fill="#1d1d1b" stroke="#1d1d1b" stroke-width="0.3" textLength="203.3" lengthAdjust="spacingAndGlyphs">number of balanced occupations</text>
<text x="575.0" y="1234.3" font-size="14" fill="#1d1d1b" stroke="#1d1d1b" stroke-width="0.3" textLength="176.7" lengthAdjust="spacingAndGlyphs">number of job offers is close</text>
<text x="575.0" y="1251.0" font-size="14" fill="#1d1d1b" stroke="#1d1d1b" stroke-width="0.3" textLength="185.0" lengthAdjust="spacingAndGlyphs">to the number of unemployed</text>
<circle cx="596.7" cy="1328.3" r="26" fill="#fff" stroke="#9474ba" stroke-width="3.3"/>
<text x="586.7" y="1336.7" font-size="21.7" font-weight="bold" fill="#1c2b7a" stroke="#1c2b7a" stroke-width="0.35" textLength="20.0" lengthAdjust="spacingAndGlyphs">15</text>
<rect x="640.7" y="1306.7" width="7.6" height="19.3" fill="#9070b2"/>
<text x="652.3" y="1321.7" font-size="14" font-weight="bold" fill="#1c2b7a" stroke="#1c2b7a" stroke-width="0.3" textLength="36.7" lengthAdjust="spacingAndGlyphs">offers</text>
<rect x="640.7" y="1331.7" width="145.3" height="17.6" fill="#9070b2"/>
<text x="652.3" y="1344.3" font-size="14" font-weight="bold" fill="#1c2b7a" stroke="#1c2b7a" stroke-width="0.3" textLength="76.7" lengthAdjust="spacingAndGlyphs">unemployed</text>
<text x="575.7" y="1382.7" font-size="14" fill="#1d1d1b" stroke="#1d1d1b" stroke-width="0.3" textLength="192.6" lengthAdjust="spacingAndGlyphs">number of surplus occupations</text>
<text x="575.7" y="1399.3" font-size="14" fill="#1d1d1b" stroke="#1d1d1b" stroke-width="0.3" textLength="127.0" lengthAdjust="spacingAndGlyphs">with fewer job offers</text>
<text x="575.7" y="1416.0" font-size="14" fill="#1d1d1b" stroke="#1d1d1b" stroke-width="0.3" textLength="161.6" lengthAdjust="spacingAndGlyphs">than unemployed persons</text>
<rect x="537.7" y="1461.6" width="310" height="95.2" fill="#fff" stroke="#1f2d7b" stroke-width="2"/>
<text x="565.9" y="1491.7" font-size="14" fill="#1d1d1b" stroke="#1d1d1b" stroke-width="0.3" textLength="257.5" lengthAdjust="spacingAndGlyphs">The full list of occupations on the website</text>
<text x="562.8" y="1516.2" font-size="14" font-weight="bold" fill="#1c2b7a" stroke="#1c2b7a" stroke-width="0.3" textLength="165.2" lengthAdjust="spacingAndGlyphs">www.barometrzawodow.pl</text>
<text x="563.6" y="1541.0" font-size="14" fill="#1d1d1b" stroke="#1d1d1b" stroke-width="0.3" textLength="183.2" lengthAdjust="spacingAndGlyphs">and in the attached excel file.</text>
<circle cx="801.8" cy="1521.6" r="26" fill="#8f6fb0"/>
<rect x="785.7" y="1507" width="32.3" height="5" fill="#fff"/><rect x="785.7" y="1514.2" width="32.3" height="15.4" fill="#fff"/>
<circle cx="790.4" cy="1509.5" r="0.8" fill="#8f6fb0"/>
<circle cx="793.5" cy="1509.5" r="0.8" fill="#8f6fb0"/>
<circle cx="796.7" cy="1509.5" r="0.8" fill="#8f6fb0"/>
<circle cx="801.8" cy="1527.2" r="10.2" fill="#8f6fb0"/><circle cx="801.8" cy="1527.2" r="8.8" fill="#fff"/>
<g fill="none" stroke="#8f6fb0" stroke-width="1.1"><ellipse cx="801.8" cy="1527.2" rx="4" ry="8.8"/><path d="M801.8,1518.4 V1536 M793,1527.2 H810.6 M794.2,1522.8 H809.4 M794.2,1531.6 H809.4"/></g>
<text x="53.3" y="1706.7" font-size="25" fill="#1d1d1b" stroke="#1d1d1b" stroke-width="0.35" textLength="56.0" lengthAdjust="spacingAndGlyphs">Rate</text>
<text x="57.3" y="1719.3" font-size="11" fill="#1d1d1b" stroke="#1d1d1b" stroke-width="0.3" textLength="46.7" lengthAdjust="spacingAndGlyphs">the study</text>
<polygon points="123.8,1642.5 125.9,1646.7 130.6,1647.4 127.2,1650.7 128.0,1655.3 123.8,1653.2 119.6,1655.3 120.4,1650.7 117.0,1647.4 121.7,1646.7" fill="#dde8ab" stroke="#dde8ab" stroke-width="1.4" stroke-linejoin="round"/>
<path d="M116.9,1646.9 L119.9,1650.4 V1655.6" fill="none" stroke="#a4c614" stroke-width="1.3" stroke-linecap="round" stroke-linejoin="round"/>
<polygon points="139.7,1642.5 141.8,1646.7 146.5,1647.4 143.2,1650.7 143.9,1655.3 139.7,1653.2 135.6,1655.3 136.3,1650.7 133.0,1647.4 137.6,1646.7" fill="#e1e6e8" stroke="#e1e6e8" stroke-width="1.4" stroke-linejoin="round"/>
<polygon points="155.7,1642.5 157.8,1646.7 162.4,1647.4 159.1,1650.7 159.8,1655.3 155.7,1653.2 151.5,1655.3 152.2,1650.7 148.9,1647.4 153.5,1646.7" fill="#e1e6e8" stroke="#e1e6e8" stroke-width="1.4" stroke-linejoin="round"/>
<polygon points="171.6,1642.5 173.7,1646.7 178.3,1647.4 175.0,1650.7 175.8,1655.3 171.6,1653.2 167.4,1655.3 168.2,1650.7 164.8,1647.4 169.5,1646.7" fill="#e1e6e8" stroke="#e1e6e8" stroke-width="1.4" stroke-linejoin="round"/>
<polygon points="187.5,1642.5 189.6,1646.7 194.3,1647.4 190.9,1650.7 191.7,1655.3 187.5,1653.2 183.3,1655.3 184.1,1650.7 180.8,1647.4 185.4,1646.7" fill="#e1e6e8" stroke="#e1e6e8" stroke-width="1.4" stroke-linejoin="round"/>
<polygon points="123.8,1658.5 125.9,1662.7 130.6,1663.5 127.2,1666.8 128.0,1671.4 123.8,1669.2 119.6,1671.4 120.4,1666.8 117.0,1663.5 121.7,1662.7" fill="#dde8ab" stroke="#dde8ab" stroke-width="1.4" stroke-linejoin="round"/>
<path d="M116.9,1662.9 L119.9,1666.4 V1671.6" fill="none" stroke="#a4c614" stroke-width="1.3" stroke-linecap="round" stroke-linejoin="round"/>
<polygon points="139.7,1658.5 141.8,1662.7 146.5,1663.5 143.2,1666.8 143.9,1671.4 139.7,1669.2 135.6,1671.4 136.3,1666.8 133.0,1663.5 137.6,1662.7" fill="#dde8ab" stroke="#dde8ab" stroke-width="1.4" stroke-linejoin="round"/>
<path d="M132.8,1662.9 L135.8,1666.4 V1671.6" fill="none" stroke="#a4c614" stroke-width="1.3" stroke-linecap="round" stroke-linejoin="round"/>
<polygon points="155.7,1658.5 157.8,1662.7 162.4,1663.5 159.1,1666.8 159.8,1671.4 155.7,1669.2 151.5,1671.4 152.2,1666.8 148.9,1663.5 153.5,1662.7" fill="#e1e6e8" stroke="#e1e6e8" stroke-width="1.4" stroke-linejoin="round"/>
<polygon points="171.6,1658.5 173.7,1662.7 178.3,1663.5 175.0,1666.8 175.8,1671.4 171.6,1669.2 167.4,1671.4 168.2,1666.8 164.8,1663.5 169.5,1662.7" fill="#e1e6e8" stroke="#e1e6e8" stroke-width="1.4" stroke-linejoin="round"/>
<polygon points="187.5,1658.5 189.6,1662.7 194.3,1663.5 190.9,1666.8 191.7,1671.4 187.5,1669.2 183.3,1671.4 184.1,1666.8 180.8,1663.5 185.4,1662.7" fill="#e1e6e8" stroke="#e1e6e8" stroke-width="1.4" stroke-linejoin="round"/>
<polygon points="123.8,1674.6 125.9,1678.8 130.6,1679.5 127.2,1682.8 128.0,1687.4 123.8,1685.3 119.6,1687.4 120.4,1682.8 117.0,1679.5 121.7,1678.8" fill="#dde8ab" stroke="#dde8ab" stroke-width="1.4" stroke-linejoin="round"/>
<path d="M116.9,1679.0 L119.9,1682.5 V1687.7" fill="none" stroke="#a4c614" stroke-width="1.3" stroke-linecap="round" stroke-linejoin="round"/>
<polygon points="139.7,1674.6 141.8,1678.8 146.5,1679.5 143.2,1682.8 143.9,1687.4 139.7,1685.3 135.6,1687.4 136.3,1682.8 133.0,1679.5 137.6,1678.8" fill="#dde8ab" stroke="#dde8ab" stroke-width="1.4" stroke-linejoin="round"/>
<path d="M132.8,1679.0 L135.8,1682.5 V1687.7" fill="none" stroke="#a4c614" stroke-width="1.3" stroke-linecap="round" stroke-linejoin="round"/>
<polygon points="155.7,1674.6 157.8,1678.8 162.4,1679.5 159.1,1682.8 159.8,1687.4 155.7,1685.3 151.5,1687.4 152.2,1682.8 148.9,1679.5 153.5,1678.8" fill="#dde8ab" stroke="#dde8ab" stroke-width="1.4" stroke-linejoin="round"/>
<path d="M148.8,1679.0 L151.8,1682.5 V1687.7" fill="none" stroke="#a4c614" stroke-width="1.3" stroke-linecap="round" stroke-linejoin="round"/>
<polygon points="171.6,1674.6 173.7,1678.8 178.3,1679.5 175.0,1682.8 175.8,1687.4 171.6,1685.3 167.4,1687.4 168.2,1682.8 164.8,1679.5 169.5,1678.8" fill="#e1e6e8" stroke="#e1e6e8" stroke-width="1.4" stroke-linejoin="round"/>
<polygon points="187.5,1674.6 189.6,1678.8 194.3,1679.5 190.9,1682.8 191.7,1687.4 187.5,1685.3 183.3,1687.4 184.1,1682.8 180.8,1679.5 185.4,1678.8" fill="#e1e6e8" stroke="#e1e6e8" stroke-width="1.4" stroke-linejoin="round"/>
<polygon points="123.8,1690.7 125.9,1694.8 130.6,1695.6 127.2,1698.9 128.0,1703.5 123.8,1701.3 119.6,1703.5 120.4,1698.9 117.0,1695.6 121.7,1694.8" fill="#dde8ab" stroke="#dde8ab" stroke-width="1.4" stroke-linejoin="round"/>
<path d="M116.9,1695.0 L119.9,1698.5 V1703.8" fill="none" stroke="#a4c614" stroke-width="1.3" stroke-linecap="round" stroke-linejoin="round"/>
<polygon points="139.7,1690.7 141.8,1694.8 146.5,1695.6 143.2,1698.9 143.9,1703.5 139.7,1701.3 135.6,1703.5 136.3,1698.9 133.0,1695.6 137.6,1694.8" fill="#dde8ab" stroke="#dde8ab" stroke-width="1.4" stroke-linejoin="round"/>
<path d="M132.8,1695.0 L135.8,1698.5 V1703.8" fill="none" stroke="#a4c614" stroke-width="1.3" stroke-linecap="round" stroke-linejoin="round"/>
<polygon points="155.7,1690.7 157.8,1694.8 162.4,1695.6 159.1,1698.9 159.8,1703.5 155.7,1701.3 151.5,1703.5 152.2,1698.9 148.9,1695.6 153.5,1694.8" fill="#dde8ab" stroke="#dde8ab" stroke-width="1.4" stroke-linejoin="round"/>
<path d="M148.8,1695.0 L151.8,1698.5 V1703.8" fill="none" stroke="#a4c614" stroke-width="1.3" stroke-linecap="round" stroke-linejoin="round"/>
<polygon points="171.6,1690.7 173.7,1694.8 178.3,1695.6 175.0,1698.9 175.8,1703.5 171.6,1701.3 167.4,1703.5 168.2,1698.9 164.8,1695.6 169.5,1694.8" fill="#dde8ab" stroke="#dde8ab" stroke-width="1.4" stroke-linejoin="round"/>
<path d="M164.7,1695.0 L167.7,1698.5 V1703.8" fill="none" stroke="#a4c614" stroke-width="1.3" stroke-linecap="round" stroke-linejoin="round"/>
<polygon points="187.5,1690.7 189.6,1694.8 194.3,1695.6 190.9,1698.9 191.7,1703.5 187.5,1701.3 183.3,1703.5 184.1,1698.9 180.8,1695.6 185.4,1694.8" fill="#e1e6e8" stroke="#e1e6e8" stroke-width="1.4" stroke-linejoin="round"/>
<polygon points="123.8,1706.7 125.9,1710.9 130.6,1711.6 127.2,1714.9 128.0,1719.5 123.8,1717.4 119.6,1719.5 120.4,1714.9 117.0,1711.6 121.7,1710.9" fill="#dde8ab" stroke="#dde8ab" stroke-width="1.4" stroke-linejoin="round"/>
<path d="M116.9,1711.1 L119.9,1714.6 V1719.8" fill="none" stroke="#a4c614" stroke-width="1.3" stroke-linecap="round" stroke-linejoin="round"/>
<polygon points="139.7,1706.7 141.8,1710.9 146.5,1711.6 143.2,1714.9 143.9,1719.5 139.7,1717.4 135.6,1719.5 136.3,1714.9 133.0,1711.6 137.6,1710.9" fill="#dde8ab" stroke="#dde8ab" stroke-width="1.4" stroke-linejoin="round"/>
<path d="M132.8,1711.1 L135.8,1714.6 V1719.8" fill="none" stroke="#a4c614" stroke-width="1.3" stroke-linecap="round" stroke-linejoin="round"/>
<polygon points="155.7,1706.7 157.8,1710.9 162.4,1711.6 159.1,1714.9 159.8,1719.5 155.7,1717.4 151.5,1719.5 152.2,1714.9 148.9,1711.6 153.5,1710.9" fill="#dde8ab" stroke="#dde8ab" stroke-width="1.4" stroke-linejoin="round"/>
<path d="M148.8,1711.1 L151.8,1714.6 V1719.8" fill="none" stroke="#a4c614" stroke-width="1.3" stroke-linecap="round" stroke-linejoin="round"/>
<polygon points="171.6,1706.7 173.7,1710.9 178.3,1711.6 175.0,1714.9 175.8,1719.5 171.6,1717.4 167.4,1719.5 168.2,1714.9 164.8,1711.6 169.5,1710.9" fill="#dde8ab" stroke="#dde8ab" stroke-width="1.4" stroke-linejoin="round"/>
<path d="M164.7,1711.1 L167.7,1714.6 V1719.8" fill="none" stroke="#a4c614" stroke-width="1.3" stroke-linecap="round" stroke-linejoin="round"/>
<polygon points="187.5,1706.7 189.6,1710.9 194.3,1711.6 190.9,1714.9 191.7,1719.5 187.5,1717.4 183.3,1719.5 184.1,1714.9 180.8,1711.6 185.4,1710.9" fill="#dde8ab" stroke="#dde8ab" stroke-width="1.4" stroke-linejoin="round"/>
<path d="M180.6,1711.1 L183.6,1714.6 V1719.8" fill="none" stroke="#a4c614" stroke-width="1.3" stroke-linecap="round" stroke-linejoin="round"/>
<path d="M656.3,1668 V1655 M665.7,1649 V1662" fill="none" stroke="#666" stroke-width="1.5"/><path d="M652.2,1656.7 H660.4 L656.3,1649 Z M661.6,1660.3 H669.8 L665.7,1668 Z" fill="#666"/>
<text x="676.8" y="1662.7" font-size="11" fill="#1d1d1b" stroke="#1d1d1b" stroke-width="0.3" textLength="175.2" lengthAdjust="spacingAndGlyphs">increase/decrease compared to 2024</text>
<text x="446.6" y="1688.3" font-size="11" fill="#1d1d1b" stroke="#1d1d1b" stroke-width="0.3" textLength="406.9" lengthAdjust="spacingAndGlyphs">S o u r c e: Work permits for foreigners – Ministry of Family, Labour and Social Policy;</text>
<text x="527.3" y="1720.3" font-size="11" fill="#1d1d1b" stroke="#1d1d1b" stroke-width="0.3" textLength="324.7" lengthAdjust="spacingAndGlyphs">When publishing Statistical Office data - please indicate the source.</text>
<rect x="0" y="1734.6" width="900" height="40" fill="#2a2d7c"/>
<rect x="0" y="1774.3" width="900" height="5.7" fill="#b2d235"/>
<circle cx="61" cy="1754" r="12" fill="none" stroke="#fff" stroke-width="1.6"/>
<path d="M64.8,1747.2 h-2 q-2.6,0 -2.6,2.6 v2.4 h-2.4 v2.8 h2.4 v7.4 h3 v-7.4 h2.6 l0.5,-2.8 h-3.1 v-1.8 q0,-0.7 0.8,-0.7 h1.9 Z" fill="#fff"/>
<text x="90.0" y="1761.0" font-size="16.5" fill="#fff" textLength="225.7" lengthAdjust="spacingAndGlyphs">UrzadStatystycznywWarszawie</text>
<path d="M394.2,1746.6 L406.8,1762.4 M408,1746.6 L394.6,1762.4" stroke="#fff" stroke-width="1.5" fill="none"/><path d="M394.2,1746.6 h3.4 l12.6,15.8 h-3.4 Z" fill="#2a2d7c" stroke="#fff" stroke-width="1.3"/>
<text x="418.3" y="1760.7" font-size="16.5" fill="#fff" textLength="132.5" lengthAdjust="spacingAndGlyphs">@Warszawa_STAT</text>
<g fill="none" stroke="#fff" stroke-width="1.5"><circle cx="677.5" cy="1754" r="8.2"/><ellipse cx="677.5" cy="1754" rx="3.6" ry="8.2"/><path d="M669.3,1754 H685.7 M670.6,1749.6 H684.4 M670.6,1758.4 H684.4"/></g>
<text x="697.3" y="1760.4" font-size="16.5" fill="#fff" textLength="185.7" lengthAdjust="spacingAndGlyphs">warszawa.stat.gov.pl/en/</text>
</svg>
</body>
</html>
